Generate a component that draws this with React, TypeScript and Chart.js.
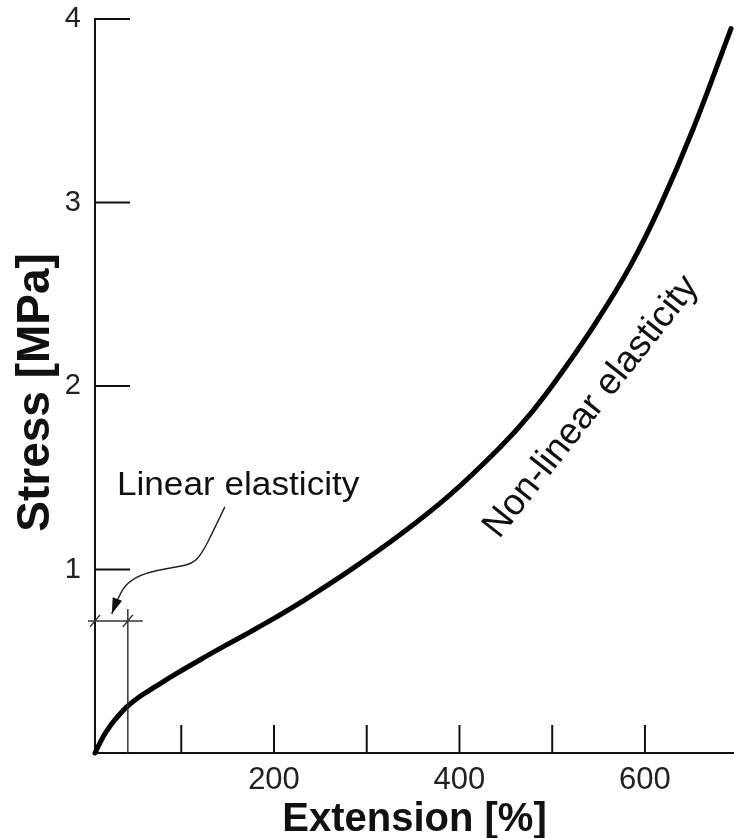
import React, { useEffect, useRef } from 'react';
import { Chart, registerables } from 'chart.js';

Chart.register(...registerables);

// ---- data (Extension in %, Stress in MPa) ----
const extension = [7, 13.3, 19.7, 28.4, 41.3, 55.3, 71.5, 94.2, 120, 144.9, 174, 200.9, 227.9, 281.8, 335.8, 389.7, 443.6, 476, 511.6, 548.3, 583.9, 616.2, 651.8, 692.8];
const stress = [0, 0.065, 0.12, 0.18, 0.251, 0.308, 0.36, 0.431, 0.507, 0.578, 0.659, 0.736, 0.818, 0.995, 1.189, 1.407, 1.665, 1.845, 2.083, 2.355, 2.652, 2.979, 3.399, 3.948];

const xTickLabels = [200, 400, 600];
const yTickLabels = [1, 2, 3, 4];
const xTickMarks = [100, 200, 300, 400, 500, 600];
const yTickMarks = [1, 2, 3, 4];

const xTitle = 'Extension [%]';
const yTitle = 'Stress [MPa] ';
const linearLabel = 'Linear elasticity';
const nonLinearLabel = 'Non-linear elasticity';

// annotation anchors in data units
const linearLimit = 42.4;
const dimensionStress = 0.72;
const limitLineTop = 0.785;
const linearLabelPos = [30.6, 1.406];
const nonLinearLabelPos = [542, 1.886];
const arrowX = [147.0, 135.1, 123.2, 112.5, 87.7, 60.7, 41.3, 31.6, 25.1];
const arrowY = [1.341, 1.215, 1.095, 1.030, 1.008, 0.981, 0.927, 0.845, 0.757];

const FONT = "'Liberation Sans', Arial, sans-serif";

const annotationPlugin = {
  id: 'annotations',
  afterDraw(chart: any) {
    const { ctx, chartArea } = chart;
    const xs = chart.scales.x;
    const ys = chart.scales.y;
    const X = (v: number) => xs.getPixelForValue(v);
    const Y = (v: number) => ys.getPixelForValue(v);
    const line = (x1: number, y1: number, x2: number, y2: number) => {
      ctx.beginPath();
      ctx.moveTo(x1, y1);
      ctx.lineTo(x2, y2);
      ctx.stroke();
    };
    ctx.save();
    // inward tick marks
    ctx.strokeStyle = '#111';
    ctx.lineWidth = 2;
    xTickMarks.forEach((v) => line(X(v), chartArea.bottom, X(v), chartArea.bottom - 28));
    yTickMarks.forEach((v) => line(chartArea.left, Y(v), chartArea.left + 35, Y(v)));

    // linear-limit vertical line
    ctx.strokeStyle = '#333';
    ctx.lineWidth = 1.5;
    line(X(linearLimit), Y(0), X(linearLimit), Y(limitLineTop));
    // dimension line
    const dy = Y(dimensionStress);
    line(chartArea.left - 7, dy, X(linearLimit) + 15, dy);
    // slashes
    [chartArea.left, X(linearLimit)].forEach((px) => line(px - 5, dy + 6, px + 5, dy - 6));

    // arrow
    ctx.strokeStyle = '#222';
    ctx.lineWidth = 1.4;
    const pts = arrowX.map((v, i) => [X(v), Y(arrowY[i])]);
    ctx.beginPath();
    ctx.moveTo(pts[0][0], pts[0][1]);
    for (let i = 1; i < pts.length - 2; i++) {
      const mx = (pts[i][0] + pts[i + 1][0]) / 2;
      const my = (pts[i][1] + pts[i + 1][1]) / 2;
      ctx.quadraticCurveTo(pts[i][0], pts[i][1], mx, my);
    }
    const n = pts.length;
    ctx.quadraticCurveTo(pts[n - 2][0], pts[n - 2][1], pts[n - 1][0], pts[n - 1][1]);
    ctx.stroke();
    // arrowhead
    const tip = pts[n - 1];
    const prev = pts[n - 2];
    const ang = Math.atan2(tip[1] - prev[1], tip[0] - prev[0]);
    const hl = 16;
    const hw = 5;
    ctx.fillStyle = '#111';
    ctx.beginPath();
    ctx.moveTo(tip[0], tip[1]);
    ctx.lineTo(tip[0] - hl * Math.cos(ang) + hw * Math.sin(ang), tip[1] - hl * Math.sin(ang) - hw * Math.cos(ang));
    ctx.lineTo(tip[0] - hl * Math.cos(ang) - hw * Math.sin(ang), tip[1] - hl * Math.sin(ang) + hw * Math.cos(ang));
    ctx.closePath();
    ctx.fill();

    // texts
    ctx.fillStyle = '#111';
    ctx.save();
    ctx.translate(X(linearLabelPos[0]), Y(linearLabelPos[1]));
    ctx.scale(1.035, 1);
    ctx.font = `34px ${FONT}`;
    ctx.textAlign = 'left';
    ctx.textBaseline = 'alphabetic';
    ctx.fillText(linearLabel, 0, 0);
    ctx.restore();

    ctx.save();
    ctx.translate(X(nonLinearLabelPos[0]), Y(nonLinearLabelPos[1]));
    ctx.rotate((-51.6 * Math.PI) / 180);
    ctx.font = `37px ${FONT}`;
    ctx.textAlign = 'center';
    ctx.textBaseline = 'middle';
    ctx.fillText(nonLinearLabel, 0, 0);
    ctx.restore();

    ctx.restore();
  },
};

export default function App() {
  const canvasRef = useRef<HTMLCanvasElement | null>(null);

  useEffect(() => {
    if (!canvasRef.current) return;
    const chart = new Chart(canvasRef.current, {
      type: 'line',
      data: {
        datasets: [
          {
            label: 'Stress',
            data: extension.map((x, i) => ({ x, y: stress[i] })),
            borderColor: '#000',
            borderWidth: 5,
            borderCapStyle: 'round',
            borderJoinStyle: 'round',
            pointRadius: 0,
            fill: false,
            tension: 0.4,
            clip: false,
          } as any,
        ],
      },
      options: {
        animation: false,
        responsive: false,
        devicePixelRatio: 1,
        layout: { padding: { top: 19, left: 0, right: 0, bottom: 0 } },
        plugins: { legend: { display: false }, tooltip: { enabled: false } },
        scales: {
          x: {
            type: 'linear',
            min: 7,
            max: 696,
            afterFit: (s: any) => {
              s.height = 85;
            },
            grid: { display: false, drawTicks: false },
            border: { display: true, color: '#111', width: 2 },
            ticks: {
              stepSize: 100,
              includeBounds: false,
              autoSkip: false,
              maxRotation: 0,
              padding: 0,
              color: '#222',
              font: { family: FONT, size: 31, lineHeight: 1.77 },
              callback: (v: any) => (xTickLabels.includes(Number(v)) ? String(v) : ''),
            },
            title: {
              display: true,
              text: xTitle,
              color: '#111',
              font: { family: FONT, size: 40, weight: 'bold', lineHeight: 0.9 },
              padding: { top: 0, bottom: 0 },
            },
          },
          y: {
            type: 'linear',
            min: 0,
            max: 4,
            afterFit: (s: any) => {
              s.width = 95;
            },
            grid: { display: false, drawTicks: false },
            border: { display: true, color: '#111', width: 2 },
            ticks: {
              stepSize: 1,
              padding: 14,
              color: '#222',
              font: { family: FONT, size: 29, lineHeight: 0.3 },
              callback: (v: any) => (yTickLabels.includes(Number(v)) ? String(v) : ''),
            },
            title: {
              display: true,
              text: yTitle,
              color: '#111',
              font: { family: FONT, size: 46, weight: 'bold', lineHeight: 1 },
              padding: { top: 13, bottom: 0 },
            },
          },
        },
      } as any,
      plugins: [annotationPlugin],
    });
    return () => chart.destroy();
  }, []);

  return (
    <div style={{ position: 'absolute', left: 0, top: 0, width: 734, height: 838, background: '#fff' }}>
      <canvas ref={canvasRef} width={734} height={838} />
    </div>
  );
}
